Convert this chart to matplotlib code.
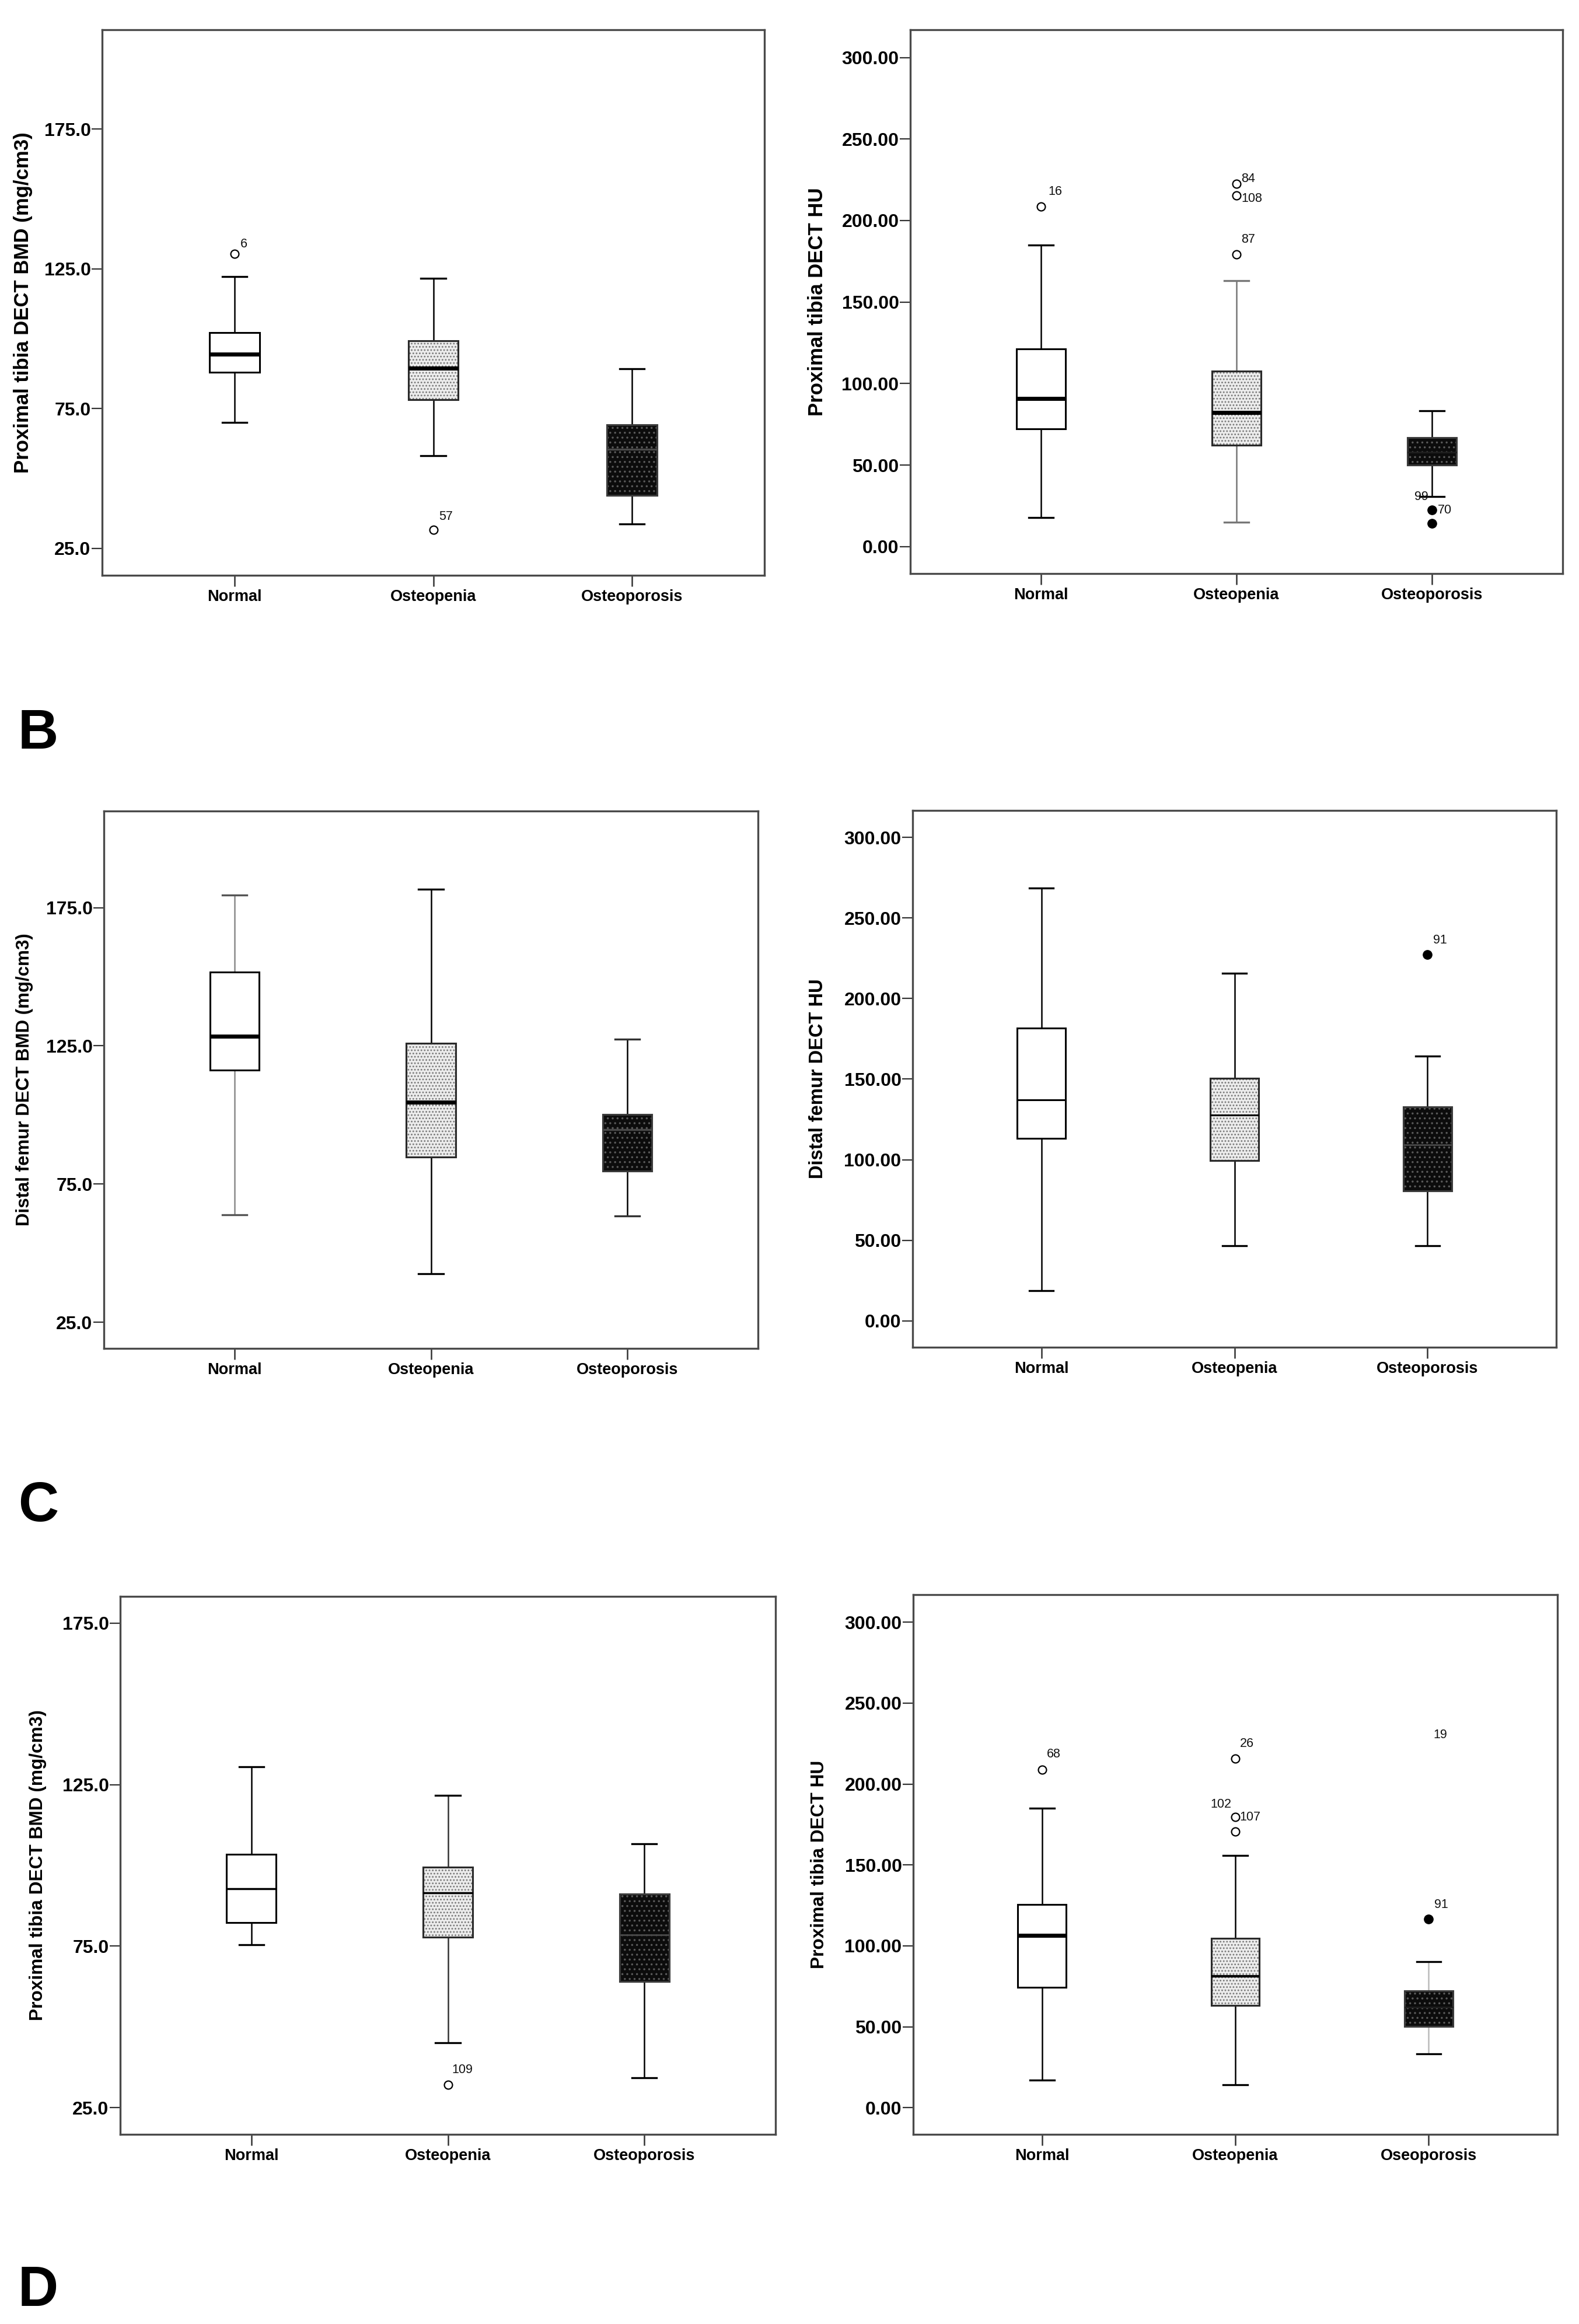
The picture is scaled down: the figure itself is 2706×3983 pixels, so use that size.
import matplotlib
matplotlib.use("Agg")
import matplotlib.pyplot as plt
from matplotlib.patches import PathPatch

plt.rcParams['font.family'] = ['Liberation Sans', 'DejaVu Sans']
plt.rcParams['hatch.linewidth'] = 1.3

# ---------------- data ----------------
categories = ["Normal", "Osteopenia", "Osteoporosis"]
categories_c = ["Normal", "Osteopenia", "Oseoporosis"]
bmd_ticks = [25.0, 75.0, 125.0, 175.0]
hu_ticks = [0.0, 50.0, 100.0, 150.0, 200.0, 250.0, 300.0]

# Panel A left: Proximal tibia DECT BMD
a_l_whislo = [70.0, 58.2, 33.8]
a_l_q1 = [88.1, 78.3, 43.9]
a_l_med = [94.5, 89.5, 60.5]
a_l_q3 = [102.2, 99.3, 69.3]
a_l_whishi = [122.3, 121.7, 89.2]
a_l_out_open = [(1, 130.4, "6"), (2, 31.7, "57")]
a_l_out_fill = []
a_l_labels_only = []

# Panel A right: Proximal tibia DECT HU
a_r_whislo = [17.7, 14.9, 30.7]
a_r_q1 = [72.4, 62.1, 50.1]
a_r_med = [90.8, 82.4, 58.0]
a_r_q3 = [121.2, 107.6, 66.8]
a_r_whishi = [185.0, 163.2, 83.4]
a_r_out_open = [(1, 208.7, "16"), (2, 222.6, "84"), (2, 215.4, "108"), (2, 179.4, "87")]
a_r_out_fill = [(3, 22.5, "70"), (3, 14.1, "")]
a_r_labels_only = [(3, 30.7, "99")]

# Panel B left: Distal femur DECT BMD
b_l_whislo = [63.8, 42.6, 63.4]
b_l_q1 = [116.3, 84.7, 79.6]
b_l_med = [128.5, 104.6, 94.7]
b_l_q3 = [151.8, 126.0, 100.2]
b_l_whishi = [179.5, 181.7, 127.5]
b_l_out_open = []
b_l_out_fill = []
b_l_labels_only = []

# Panel B right: Distal femur DECT HU
b_r_whislo = [18.6, 46.5, 46.5]
b_r_q1 = [113.2, 99.4, 80.6]
b_r_med = [137.2, 127.6, 109.2]
b_r_q3 = [181.8, 150.6, 132.7]
b_r_whishi = [268.7, 215.6, 164.2]
b_r_out_open = []
b_r_out_fill = [(3, 227.2, "91")]
b_r_labels_only = []

# Panel C left: Proximal tibia DECT BMD
c_l_whislo = [75.5, 45.1, 34.2]
c_l_q1 = [82.3, 77.8, 64.0]
c_l_med = [92.8, 91.5, 78.5]
c_l_q3 = [103.5, 99.5, 91.1]
c_l_whishi = [130.6, 121.7, 106.6]
c_l_out_open = [(2, 32.1, "109")]
c_l_out_fill = []
c_l_labels_only = []

# Panel C right: Proximal tibia DECT HU
c_r_whislo = [17.2, 14.2, 33.1]
c_r_q1 = [74.4, 63.3, 50.3]
c_r_med = [106.3, 81.3, 62.0]
c_r_q3 = [125.4, 104.7, 72.1]
c_r_whishi = [185.2, 155.7, 90.2]
c_r_out_open = [(1, 208.8, "68"), (2, 215.7, "26"), (2, 179.5, "107"), (2, 170.6, "")]
c_r_out_fill = [(3, 116.5, "91")]
c_r_labels_only = [(2, 179.5, "102"), (3, 230.3, "19")]

# ---------------- styling (not data) ----------------
FIG_W, FIG_H = 2706, 3983
label_offsets = {  # (dx, dy) in points, ha
    "6": (7, 12, 'left'), "57": (7, 16, 'left'),
    "16": (9, 18, 'left'), "84": (6, 6, 'left'), "108": (6, -4, 'left'),
    "87": (6, 18, 'left'), "70": (7, 0, 'left'), "99": (-5, 0, 'right'),
    "91": (7, 18, 'left'), "109": (5, 18, 'left'),
    "68": (6, 19, 'left'), "26": (6, 18, 'left'), "107": (5, 0, 'left'),
    "102": (-5, 16, 'right'), "19": (6, 0, 'left'),
}

face_colors = ['white', '#ececec', '#0c0c0c']
hatch_colors = [None, '#7a7a7a', '#5a5a5a']
hatch_patterns = [None, '...', '..']
box_edge = ['black', '#2a2a2a', '#3a3a3a']


def px_rect(x0, y0, x1, y1):
    return [x0 / FIG_W, 1 - y1 / FIG_H, (x1 - x0) / FIG_W, (y1 - y0) / FIG_H]


def draw_panel(fig, rect, cats, whislo, q1, med, q3, whishi, out_open, out_fill,
               labels_only, ylim, yticks, yfmt, ylabel, ylab_x, ylab_size,
               med_lw, med_col, whisk_col, cap_col):
    ax = fig.add_axes(rect)
    stats = []
    for i in range(3):
        stats.append(dict(med=med[i], q1=q1[i], q3=q3[i], whislo=whislo[i],
                          whishi=whishi[i], fliers=[]))
    pos = [1, 2, 3]
    res = ax.bxp(stats, positions=pos, widths=0.25, capwidths=0.125,
                 patch_artist=True, showfliers=False,
                 boxprops=dict(linewidth=2.2, zorder=2),
                 medianprops=dict(zorder=4),
                 whiskerprops=dict(linewidth=1.8, zorder=1.5),
                 capprops=dict(linewidth=2.4, zorder=1.5))
    for i, box in enumerate(res['boxes']):
        box.set_facecolor(face_colors[i])
        box.set_edgecolor(box_edge[i])
        if hatch_colors[i] is not None:
            hp = PathPatch(box.get_path(), facecolor='none',
                           edgecolor=hatch_colors[i], linewidth=0,
                           hatch=hatch_patterns[i], zorder=2.1)
            ax.add_patch(hp)
            ep = PathPatch(box.get_path(), facecolor='none',
                           edgecolor=box_edge[i], linewidth=2.2, zorder=2.2)
            ax.add_patch(ep)
        m = res['medians'][i]
        m.set_linewidth(med_lw[i])
        m.set_color(med_col[i])
        for w in res['whiskers'][2 * i:2 * i + 2]:
            w.set_color(whisk_col[i])
        for c in res['caps'][2 * i:2 * i + 2]:
            c.set_color(cap_col[i])

    for (x, y, lab) in out_open:
        ax.plot([x], [y], marker='o', ms=10, mfc='white', mec='black',
                mew=1.6, ls='none', zorder=5)
    for (x, y, lab) in out_fill:
        ax.plot([x], [y], marker='o', ms=11, mfc='black', mec='black',
                ls='none', zorder=5)
    for (x, y, lab) in out_open + out_fill + labels_only:
        if not lab or (lab in ("102", "19", "99") and (x, y, lab) not in labels_only):
            continue
        dx, dy, ha = label_offsets[lab]
        ax.annotate(lab, (x, y), xytext=(dx, dy), textcoords='offset points',
                    ha=ha, va='center', fontsize=15.5, color='#111', zorder=6)

    ax.set_xlim(1 - 2 / 3, 3 + 2 / 3)
    ax.set_ylim(*ylim)
    ax.set_yticks(yticks)
    ax.set_yticklabels([yfmt % v for v in yticks])
    ax.set_xticks(pos)
    ax.set_xticklabels(cats)
    for s in ax.spines.values():
        s.set_color('#4a4a4a')
        s.set_linewidth(2.4)
    ax.tick_params(axis='y', direction='out', length=13, width=1.6,
                   color='#333333', pad=1, labelsize=23)
    ax.tick_params(axis='x', direction='out', length=14, width=1.8,
                   color='#333333', pad=3, labelsize=19.5)
    for t in ax.get_yticklabels():
        t.set_fontweight('bold')
    for t in ax.get_xticklabels():
        t.set_fontweight('bold')
    ax.set_ylabel(ylabel, fontsize=ylab_size, fontweight='bold')
    ax.yaxis.set_label_coords(ylab_x, 0.5)
    return ax


fig = plt.figure(figsize=(FIG_W / 100, FIG_H / 100), dpi=100)

thick = 5.0
draw_panel(fig, px_rect(175, 51, 1310, 986), categories,
           a_l_whislo, a_l_q1, a_l_med, a_l_q3, a_l_whishi,
           a_l_out_open, a_l_out_fill, a_l_labels_only,
           (15.4, 210.5), bmd_ticks, "%.1f",
           "Proximal tibia DECT BMD (mg/cm3)", -0.105, 25,
           [thick, thick, 2.5], ['black', 'black', '#4a4a4a'],
           ['black', 'black', 'black'], ['black', 'black', 'black'])

draw_panel(fig, px_rect(1560, 51, 2678, 983), categories,
           a_r_whislo, a_r_q1, a_r_med, a_r_q3, a_r_whishi,
           a_r_out_open, a_r_out_fill, a_r_labels_only,
           (-16.5, 317.0), hu_ticks, "%.2f",
           "Proximal tibia DECT HU", -0.128, 25,
           [thick, thick, 2.0], ['black', 'black', '#1e1e1e'],
           ['black', '#777777', 'black'], ['black', '#777777', 'black'])

draw_panel(fig, px_rect(178, 1390, 1299, 2311), categories,
           b_l_whislo, b_l_q1, b_l_med, b_l_q3, b_l_whishi,
           b_l_out_open, b_l_out_fill, b_l_labels_only,
           (15.5, 210.0), bmd_ticks, "%.1f",
           "Distal femur DECT BMD (mg/cm3)", -0.108, 22.5,
           [thick, thick, 2.5], ['black', 'black', '#4a4a4a'],
           ['#8a8a8a', 'black', 'black'], ['#555555', 'black', '#333333'])

draw_panel(fig, px_rect(1564, 1389, 2667, 2309), categories,
           b_r_whislo, b_r_q1, b_r_med, b_r_q3, b_r_whishi,
           b_r_out_open, b_r_out_fill, b_r_labels_only,
           (-16.4, 316.7), hu_ticks, "%.2f",
           "Distal femur DECT HU", -0.133, 23.5,
           [2.2, 2.2, 2.0], ['black', 'black', '#4a4a4a'],
           ['black', 'black', 'black'], ['black', 'black', 'black'])

draw_panel(fig, px_rect(206, 2736, 1329, 3658), categories,
           c_l_whislo, c_l_q1, c_l_med, c_l_q3, c_l_whishi,
           c_l_out_open, c_l_out_fill, c_l_labels_only,
           (16.7, 183.3), bmd_ticks, "%.1f",
           "Proximal tibia DECT BMD (mg/cm3)", -0.112, 22.8,
           [2.5, 2.5, 2.0], ['black', 'black', '#4a4a4a'],
           ['black', '#333333', 'black'], ['black', 'black', 'black'])

draw_panel(fig, px_rect(1565, 2733, 2669, 3658), categories_c,
           c_r_whislo, c_r_q1, c_r_med, c_r_q3, c_r_whishi,
           c_r_out_open, c_r_out_fill, c_r_labels_only,
           (-16.5, 317.0), hu_ticks, "%.2f",
           "Proximal tibia DECT HU", -0.132, 22.8,
           [thick, 3.0, 2.0], ['black', 'black', '#1e1e1e'],
           ['black', 'black', '#bbbbbb'], ['black', 'black', 'black'])

for letter, base_y in [("B", 1283), ("C", 2607), ("D", 3952)]:
    fig.text(31 / FIG_W, 1 - base_y / FIG_H, letter, fontsize=69,
             fontweight='bold', va='baseline', ha='left', color='black')

fig.savefig("out.png", dpi=100, facecolor='white')
